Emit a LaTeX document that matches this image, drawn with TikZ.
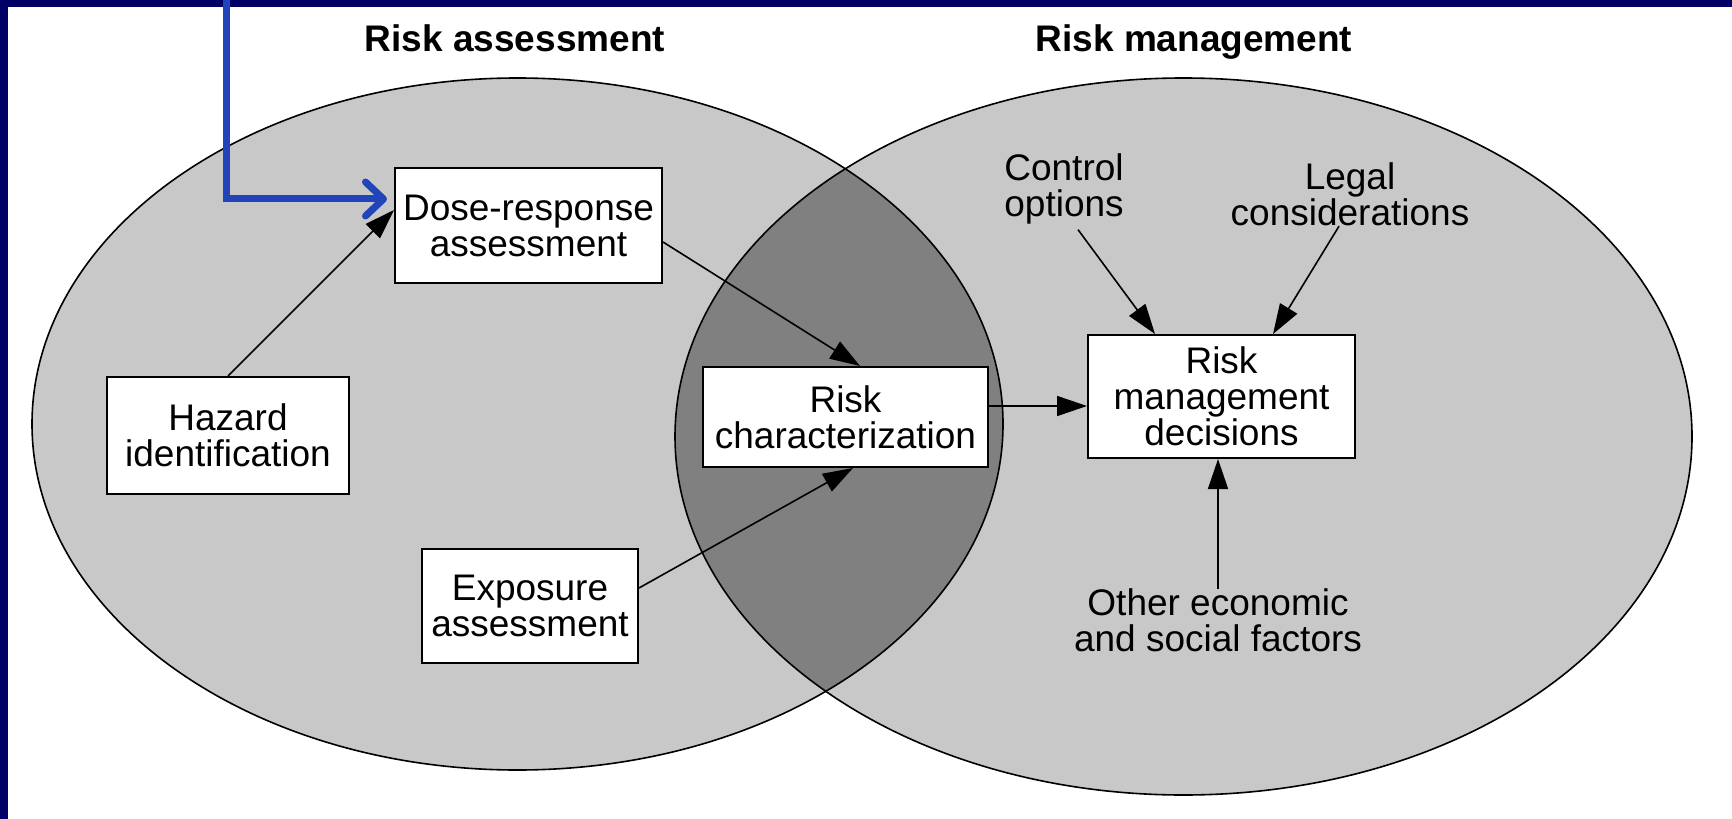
\documentclass[tikz,border=0pt]{standalone}
\usepackage{fontspec}
\setmainfont{Liberation Sans}
\usetikzlibrary{arrows.meta}
\definecolor{navyframe}{RGB}{0,0,102}
\definecolor{bluearrow}{RGB}{34,68,187}
\definecolor{lightfill}{RGB}{200,200,200}
\definecolor{lensfill}{RGB}{128,128,128}
\newcommand\diagbody{\fontsize{18.5pt}{18pt}\selectfont}
\newcommand\diagtitle{\fontsize{18.5pt}{20pt}\selectfont\bfseries}
\begin{document}
\begin{tikzpicture}[x=0.5pt,y=-0.5pt,
  box/.style={draw=black, line width=1pt, fill=white, inner sep=0pt, align=center, font=\diagbody},
  lbl/.style={inner sep=0pt, align=center, font=\diagbody},
  ttl/.style={inner sep=0pt, font=\diagtitle, anchor=base},
  conn/.style={line width=0.8pt, -{Triangle[length=15pt,width=10pt]}},
  ellout/.style={draw=black, line width=0.8pt}
]
\useasboundingbox (0,0) rectangle (1732,818);
\fill[white] (-20,-20) rectangle (1752,838);
% frame
\fill[navyframe] (-20,-20) rectangle (1752,7);
\fill[navyframe] (-20,-20) rectangle (8,838);
% ellipses
\fill[lightfill] (517.5,424) ellipse [x radius=242.75pt, y radius=173pt];
\fill[lightfill] (1183.5,436.5) ellipse [x radius=254.25pt, y radius=179.25pt];
\begin{scope}
  \clip (517.5,424) ellipse [x radius=242.75pt, y radius=173pt];
  \fill[lensfill] (1183.5,436.5) ellipse [x radius=254.25pt, y radius=179.25pt];
\end{scope}
\path[ellout] (517.5,424) ellipse [x radius=242.75pt, y radius=173pt];
\path[ellout] (1183.5,436.5) ellipse [x radius=254.25pt, y radius=179.25pt];
% titles
\node[ttl] (ratitle) at (515,52) {Risk assessment};
\node[ttl] (rmtitle) at (1194,52) {Risk management};
% boxes
\node[box, minimum width=133.5pt, minimum height=57.5pt] (dose) at (528.5,225.5) {Dose-response\\assessment};
\node[box, minimum width=121pt, minimum height=58.5pt] (hazard) at (228,435.5) {Hazard\\identification};
\node[box, minimum width=142.5pt, minimum height=50pt] (riskchar) at (845.5,417) {Risk\\characterization};
\node[box, minimum width=133.5pt, minimum height=61.5pt] (rmd) at (1221.5,396.5) {Risk\\management\\decisions};
\node[box, minimum width=108pt, minimum height=57pt] (exposure) at (530,606) {Exposure\\assessment};
% labels
\node[lbl] (control) at (1064,189) {Control\\options};
\node[lbl] (legal) at (1350,194.2) {Legal\\considerations};
\node[lbl] (other) at (1218,620.5) {Other economic\\and social factors};
% connectors
\draw[conn] (hazard.north) -- ([yshift=7.75pt]dose.west);
\draw[conn] ([yshift=-8.25pt]dose.east) -- ([xshift=7.25pt]riskchar.north);
\draw[conn] ([yshift=9pt]exposure.east) -- ([xshift=3.75pt]riskchar.south);
\draw[conn] ([yshift=5.5pt]riskchar.east) -- ([yshift=5.5pt]riskchar.east -| rmd.west);
\draw[conn] ([xshift=7pt,yshift=-2.5pt]control.south) -- ([xshift=-33.25pt]rmd.north);
\draw[conn] ([xshift=-5.5pt]legal.south) -- ([xshift=25.75pt]rmd.north);
\draw[conn] (other.north) -- (other.north |- rmd.south);
% blue pointer
\coordinate (bluetop) at (226,-20);
\draw[bluearrow, line width=3.5pt, -{Straight Barb[length=9pt, width=17pt, line cap=round, line join=round]}] (bluetop) |- ([xshift=-3.5pt,yshift=13.25pt]dose.west);
\end{tikzpicture}
\end{document}
